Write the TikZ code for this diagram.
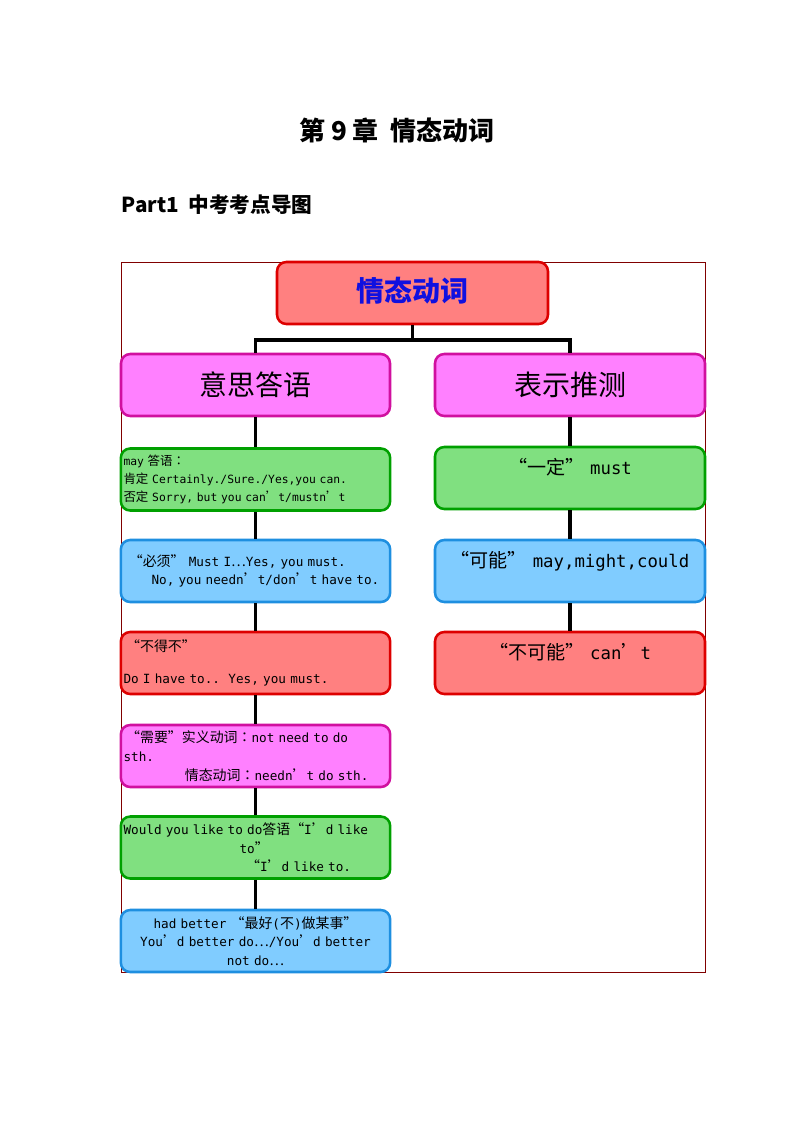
\documentclass[tikz,border=0pt]{standalone}
\usepackage{fontspec}
\setmainfont{DejaVu Sans Mono}
\newfontfamily\zhfont[Scale=1.1,RawFeature={+fwid}]{Noto Sans CJK SC}
\newfontfamily\heifont{Noto Sans CJK SC}
\newcommand\zh[1]{{\zhfont #1}}

\definecolor{redfill}{HTML}{FF8080}
\definecolor{redline}{HTML}{DD0000}
\definecolor{pinkfill}{HTML}{FF80FF}
\definecolor{pinkline}{HTML}{D0109F}
\definecolor{greenfill}{HTML}{80E080}
\definecolor{greenline}{HTML}{00A000}
\definecolor{bluefill}{HTML}{80CCFF}
\definecolor{blueline}{HTML}{1E8FE0}
\definecolor{framecol}{HTML}{800000}
\definecolor{headblue}{HTML}{1010E0}

\tikzset{
  box/.style={draw, rounded corners=7pt, line width=1.9pt, minimum height=46.5pt, inner sep=2pt},
  redbox/.style={box, fill=redfill, draw=redline},
  pinkbox/.style={box, fill=pinkfill, draw=pinkline},
  greenbox/.style={box, fill=greenfill, draw=greenline},
  bluebox/.style={box, fill=bluefill, draw=blueline},
  leftcol/.style={minimum width=201.75pt, text width=198pt, font=\fontsize{9.5}{14}\selectfont},
  rightcol/.style={minimum width=202.5pt, text width=198pt, align=center, font=\fontsize{13}{18}\selectfont},
  conn/.style={line width=2.8pt},
}

\begin{document}
\begin{tikzpicture}[x=0.75pt,y=-0.75pt]
	\useasboundingbox (0,0) rectangle (794,1123);

	% headings
	\node (title) at (397,130) {\heifont\bfseries\fontsize{19.5}{22}\selectfont 第 9 章\ \ 情态动词};
	\node[anchor=west] (part) at (117,205) {\heifont\bfseries\fontsize{15.5}{17}\selectfont Part1\ \ 中考考点导图};

	\draw[framecol, line width=0.7pt] (121,262) rectangle (705,972);

	% top and second level
	\node[redbox, minimum width=203.25pt] (top) at (412.5,293) {\heifont\bfseries\fontsize{21}{23}\selectfont\color{headblue}情态动词\vphantom{g}};
	\node[pinkbox, minimum width=201.75pt] (yisi) at (255.5,385) {\heifont\fontsize{21}{23}\selectfont 意思答语};
	\node[pinkbox, minimum width=202.5pt] (tuice) at (570,385) {\heifont\fontsize{21}{23}\selectfont 表示推测};

	% left column
	\node[greenbox, leftcol, align=left, font=\fontsize{8.5}{13.5}\selectfont] (l1) at (255.5,479.5) {may \zh{答语:}\\
		\zh{肯定} Certainly./Sure./Yes,you can.\\
		\zh{否定} Sorry, but you can\zh{’}t/mustn\zh{’}t};
	\node[bluebox, leftcol, align=left] (l2) at (255.5,571) {\hspace{4pt}\zh{“必须”} Must I\zh{…}Yes, you must.\\
		\hspace{21pt}No, you needn\zh{’}t/don\zh{’}t have to.};
	\node[redbox, leftcol, align=left] (l3) at (255.5,663) {\hspace{2pt}\zh{“不得不”}\\[10pt]
		Do I have to..\ \ Yes, you must.};
	\node[pinkbox, leftcol, align=left] (l4) at (255.5,756) {\hspace{2pt}\zh{“需要”实义动词:}not need to do\\
		sth.\\
		\hspace{46pt}\zh{情态动词:}needn\zh{’}t do sth.};
	\node[greenbox, leftcol, align=left] (l5) at (255.5,847.5) {Would you like to do\zh{答语“}I\zh{’}d like\\
		\hspace{87pt}to\zh{”}\\
		\hspace{92pt}\zh{“}I\zh{’}d like to.};
	\node[bluebox, leftcol, align=center] (l6) at (255.5,941) {had better \zh{“最好}(\zh{不})\zh{做某事”}\\
		You\zh{’}d better do\zh{…}/You\zh{’}d better\\
		not do\zh{…}};

	% right column
	\node[greenbox, rightcol] (r1) at (570,478) {\zh{“一定”} must\\ \mbox{}};
	\node[bluebox, rightcol] (r2) at (570,571) {\zh{“可能”} may,might,could\\ \mbox{}};
	\node[redbox, rightcol] (r3) at (570,663) {\zh{“不可能”} can\zh{’}t\\ \mbox{}};

	% connectors
	\draw[conn] (top.south) -- ++(0,15) coordinate (fork);
	\draw[conn] (fork) -| (yisi.north);
	\draw[conn] (fork) -| (tuice.north);
	\draw[conn] (yisi.south) -- (l1.north);
	\draw[conn] (l1.south) -- (l2.north);
	\draw[conn] (l2.south) -- (l3.north);
	\draw[conn] (l3.south) -- (l4.north);
	\draw[conn] (l4.south) -- (l5.north);
	\draw[conn] (l5.south) -- (l6.north);
	\draw[conn] (tuice.south) -- (r1.north);
	\draw[conn] (r1.south) -- (r2.north);
	\draw[conn] (r2.south) -- (r3.north);
\end{tikzpicture}
\end{document}
